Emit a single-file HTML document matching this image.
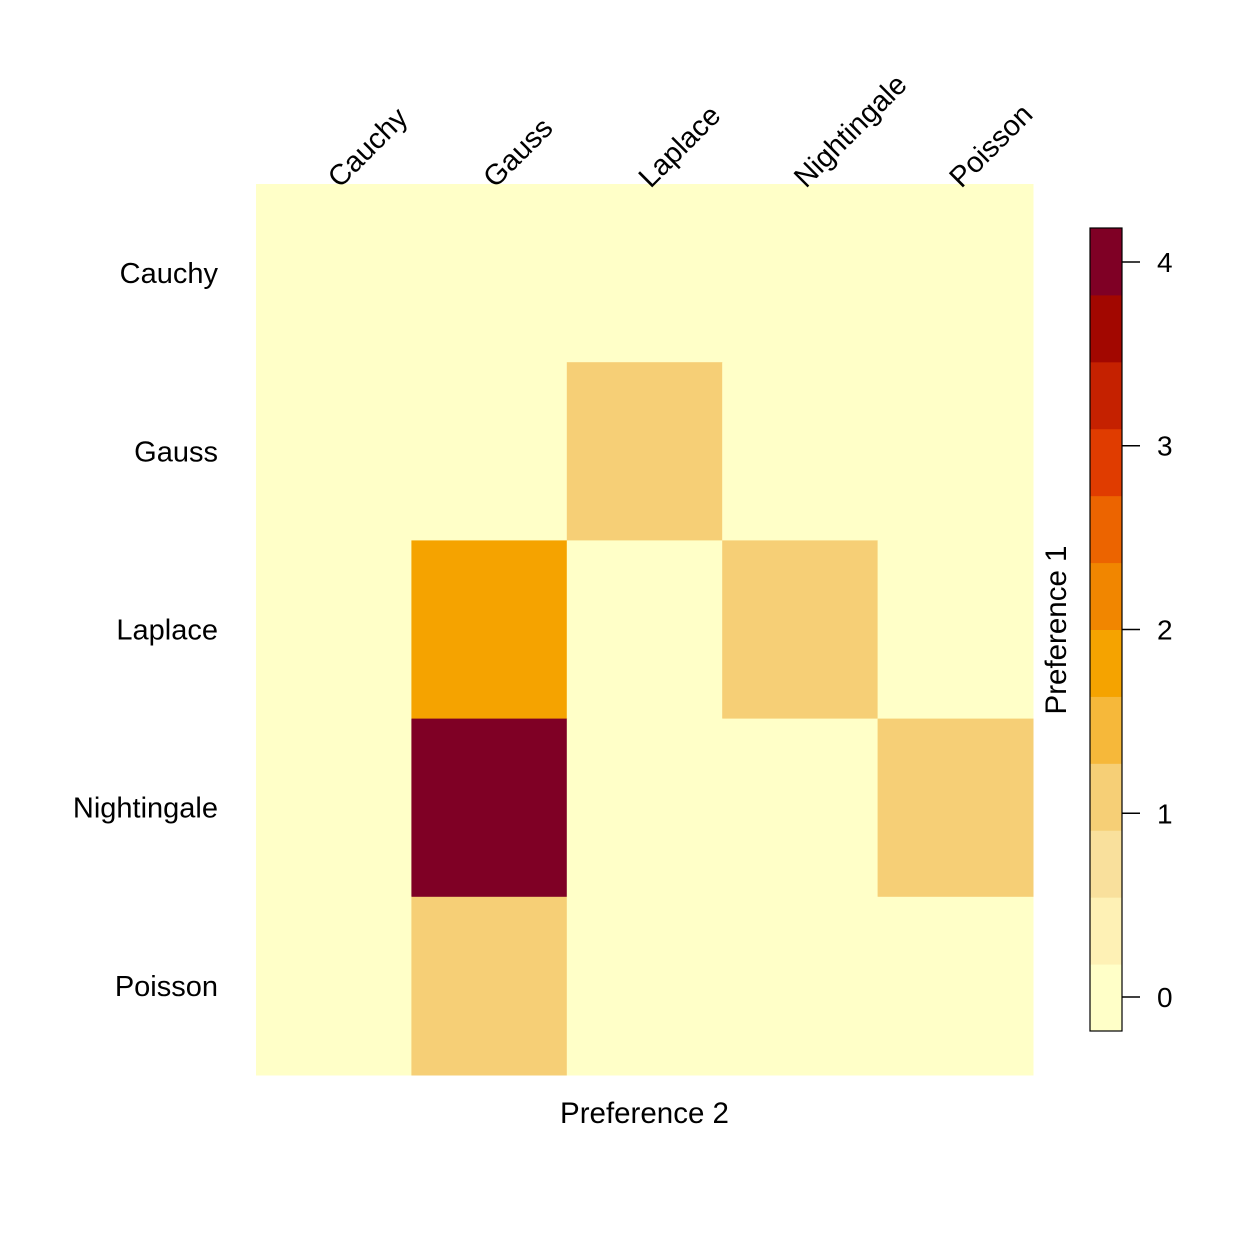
<!DOCTYPE html>
<html><head><meta charset="utf-8"><style>
html,body{margin:0;padding:0;background:#fff;}
svg{display:block;font-family:"Liberation Sans",Arial,sans-serif;}
</style></head><body>
<svg id="chart" width="1260" height="1260" viewBox="0 0 1260 1260" xmlns="http://www.w3.org/2000/svg">
<g id="cells"></g>
<g id="xlabels"></g>
<g id="ylabels"></g>
<text x="644.5" y="1123" font-size="29.5" text-anchor="middle">Preference 2</text>
<text transform="translate(1066,630) rotate(-90)" font-size="29.5" text-anchor="middle">Preference 1</text>
<g id="legend"></g>
</svg>
<script>
const categories = ["Cauchy","Gauss","Laplace","Nightingale","Poisson"];
const values = [
  [0,0,0,0,0],
  [0,0,1,0,0],
  [0,2,0,1,0],
  [0,4,0,0,1],
  [0,1,0,0,0]
];
const legendTicks = [0,1,2,3,4];
const palette = ["#FFFFC8","#FEF1B5","#F9E09C","#F6CF76","#F6B83A","#F5A300","#F18600","#EC6400","#E03C00","#C52100","#A20700","#7F0025"];
const vmin = -0.185, vmax = 4.185;

const NS = "http://www.w3.org/2000/svg";
const X0 = 256, X1 = 1033, Y0 = 184, Y1 = 1075;
const n = categories.length;
const cw = (X1 - X0) / n, ch = (Y1 - Y0) / n;
function xPos(j){ return X0 + j * cw; }
function yPos(i){ return Y0 + i * ch; }
function colorOf(v){
  let k = Math.ceil((v - vmin) / (vmax - vmin) * palette.length - 1e-9) - 1;
  k = Math.max(0, Math.min(palette.length - 1, k));
  return palette[k];
}
function mk(tag, attrs, parent){
  const e = document.createElementNS(NS, tag);
  for (const k in attrs) e.setAttribute(k, attrs[k]);
  parent.appendChild(e);
  return e;
}
const cells = document.getElementById("cells");
for (let i = 0; i < n; i++) for (let j = 0; j < n; j++) {
  const r = mk("rect", {x: xPos(j), y: yPos(i), width: cw + 0.5, height: ch + 0.5, fill: colorOf(values[i][j])}, cells);
  
  
}
const xl = document.getElementById("xlabels");
for (let j = 0; j < n; j++) {
  const cx = xPos(j) + cw / 2 + 6, cy = 189;
  const t = mk("text", {x: 0, y: 0, "font-size": 29, transform: "translate(" + cx + "," + cy + ") rotate(-45)"}, xl);
  t.textContent = categories[j];
  
  
}
const yl = document.getElementById("ylabels");
for (let i = 0; i < n; i++) {
  const t = mk("text", {x: 218, y: yPos(i) + ch / 2 + 10, "font-size": 29, "text-anchor": "end"}, yl);
  t.textContent = categories[i];
  
  
}
const lg = document.getElementById("legend");
const LX = 1090, LW = 32, LT = 228, LB = 1031;
function ly(v){ return LB - (v - vmin) / (vmax - vmin) * (LB - LT); }
const bh = (LB - LT) / palette.length;
for (let k = 0; k < palette.length; k++) {
  const r = mk("rect", {x: LX, y: LB - (k + 1) * bh, width: LW, height: bh + 0.5, fill: palette[k]}, lg);
  
  
}
const fr = mk("rect", {x: LX, y: LT, width: LW, height: LB - LT, fill: "none", stroke: "#000", "stroke-width": 1.2}, lg);


for (const v of legendTicks) {
  const y = ly(v);
  const tk = mk("line", {x1: LX + LW, x2: LX + LW + 18, y1: y, y2: y, stroke: "#000", "stroke-width": 1.5}, lg);
  
  
  const t = mk("text", {x: 1157, y: y + 10, "font-size": 28}, lg);
  t.textContent = v;
  
  
}
</script>
</body></html>
